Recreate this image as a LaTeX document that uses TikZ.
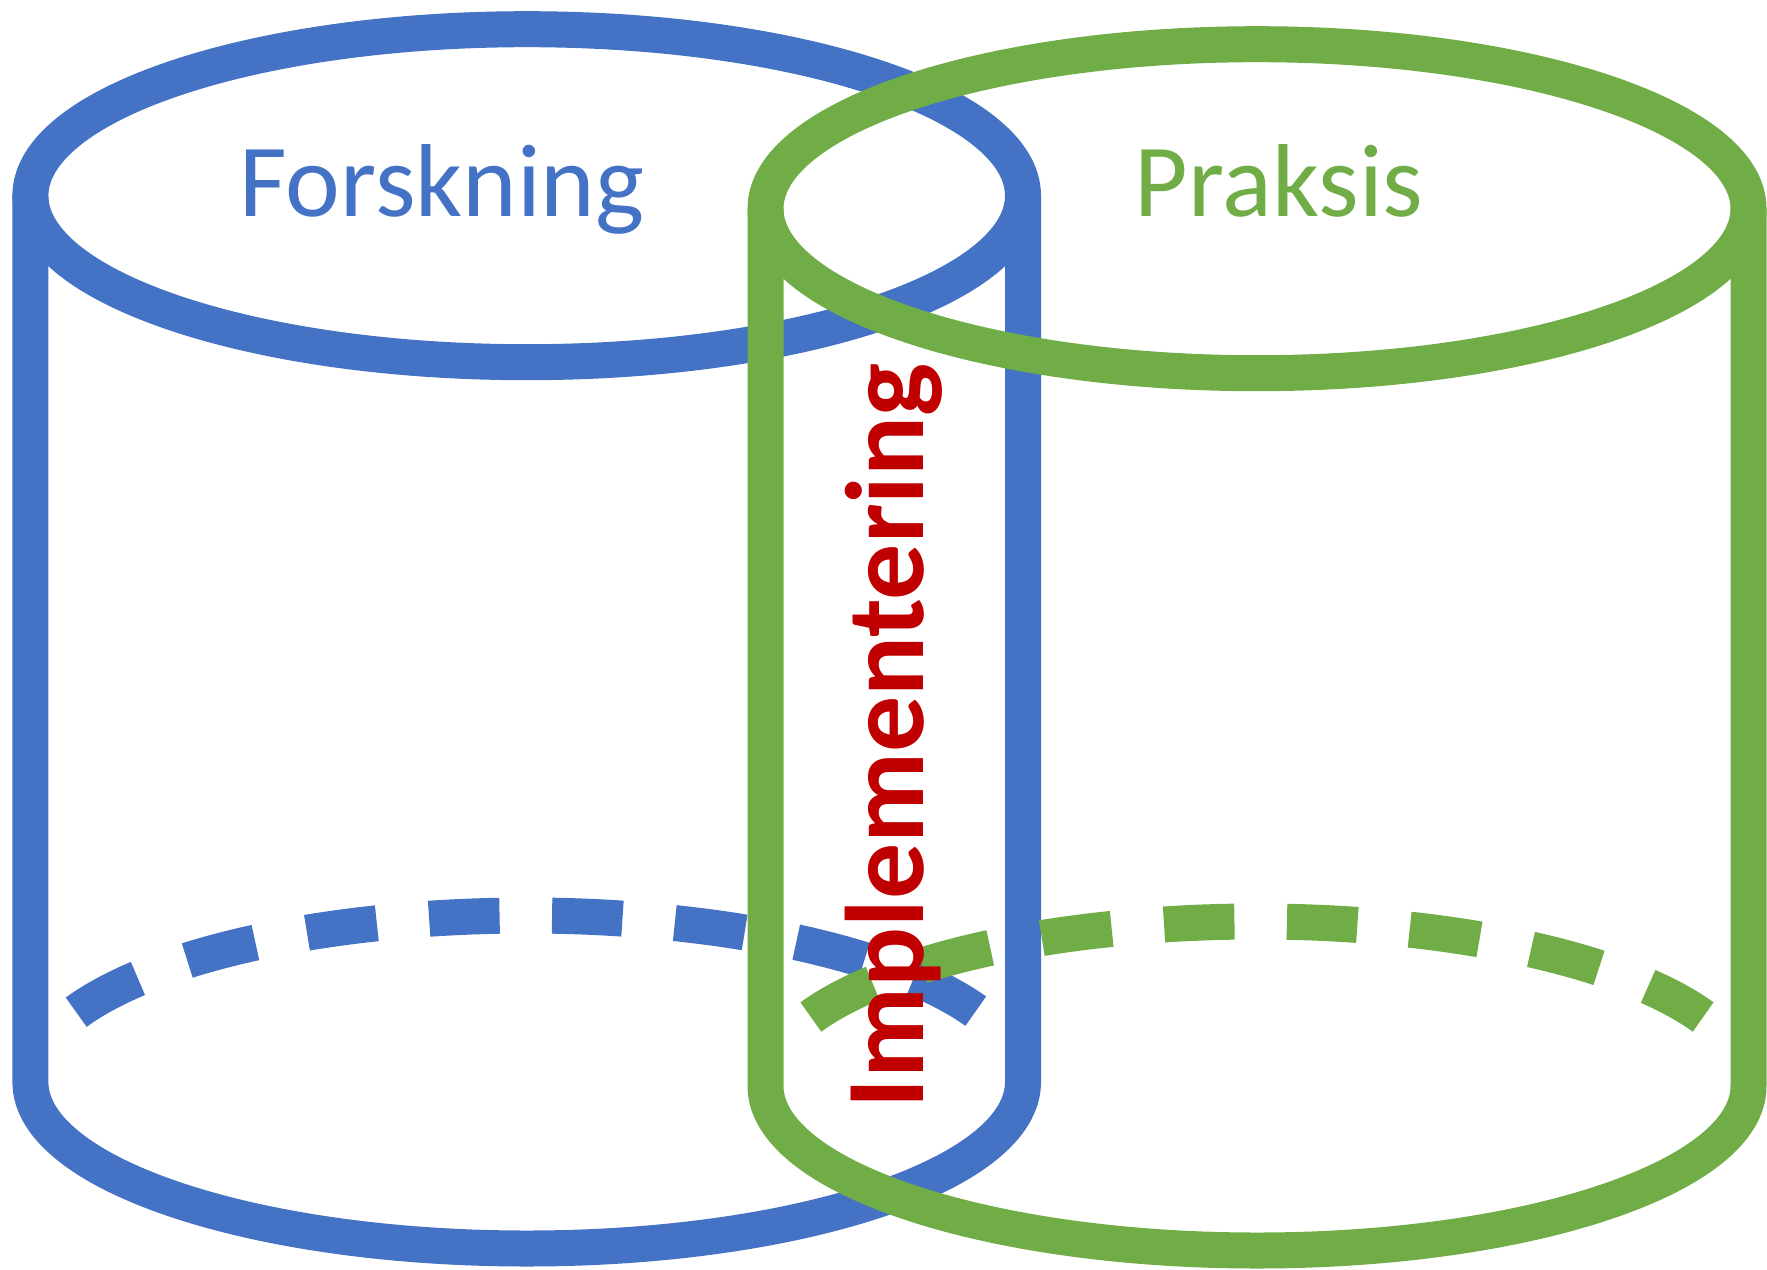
\documentclass[tikz,border=0pt]{standalone}
\usepackage{fontspec}
\setmainfont{Carlito}
\usepackage{tikz}
\usetikzlibrary{calc}
\definecolor{forskblue}{HTML}{4472C4}
\definecolor{praksgreen}{HTML}{70AD47}
\definecolor{implred}{HTML}{C00000}

\begin{document}
\begin{tikzpicture}[
    wall/.style={line width=0.36cm},
    backwall/.style={line width=0.36cm,dash pattern=on 0.705cm off 0.525cm},
    cyltext/.style={font=\fontsize{29.5}{35}\selectfont,anchor=base}]
    \newcommand{\rxB}{4.963}
    \newcommand{\ryB}{1.665}
    \newcommand{\rxG}{4.915}
    \newcommand{\ryG}{1.645}
    \useasboundingbox (0,0) rectangle (17.67,12.69);
    \path (5.267,10.733) coordinate (BT);
    \path (5.267,1.870) coordinate (BB);
    \path (12.57,10.603) coordinate (GT);
    \path (12.57,1.830) coordinate (GB);
    %\draw[help lines,line width=0.1pt,blue] (0,0) grid (17.67,12.69);
	% Forskning cylinder
	\draw[wall,forskblue] ($(BT)+(-\rxB,0)$)--($(BB)+(-\rxB,0)$) arc[start angle=180,end angle=360,x radius=\rxB,y radius=\ryB]--($(BT)+(\rxB,0)$);
	\draw[wall,forskblue] (BT) ellipse[x radius=\rxB,y radius=\ryB];
	\draw[backwall,forskblue] (BB) ++(155.2:\rxB cm and \ryB cm) arc[start angle=155.2,end angle=24.8,x radius=\rxB,y radius=\ryB];
	% Praksis cylinder
	\draw[wall,praksgreen] ($(GT)+(-\rxG,0)$)--($(GB)+(-\rxG,0)$) arc[start angle=180,end angle=360,x radius=\rxG,y radius=\ryG]--($(GT)+(\rxG,0)$);
	\draw[wall,praksgreen] (GT) ellipse[x radius=\rxG,y radius=\ryG];
	\draw[backwall,praksgreen] (GB) ++(155.2:\rxG cm and \ryG cm) arc[start angle=155.2,end angle=24.8,x radius=\rxG,y radius=\ryG];
	\node[cyltext,text=forskblue] (forsk) at (4.42,10.52) {Forskning};
	\node[cyltext,text=praksgreen] (praks) at (12.79,10.52) {Praksis};
	\node[font=\fontsize{31.8}{38}\selectfont\bfseries,text=implred,rotate=90,anchor=base] (impl) at (9.23,5.33) {Implementering};
\end{tikzpicture}
\end{document}
